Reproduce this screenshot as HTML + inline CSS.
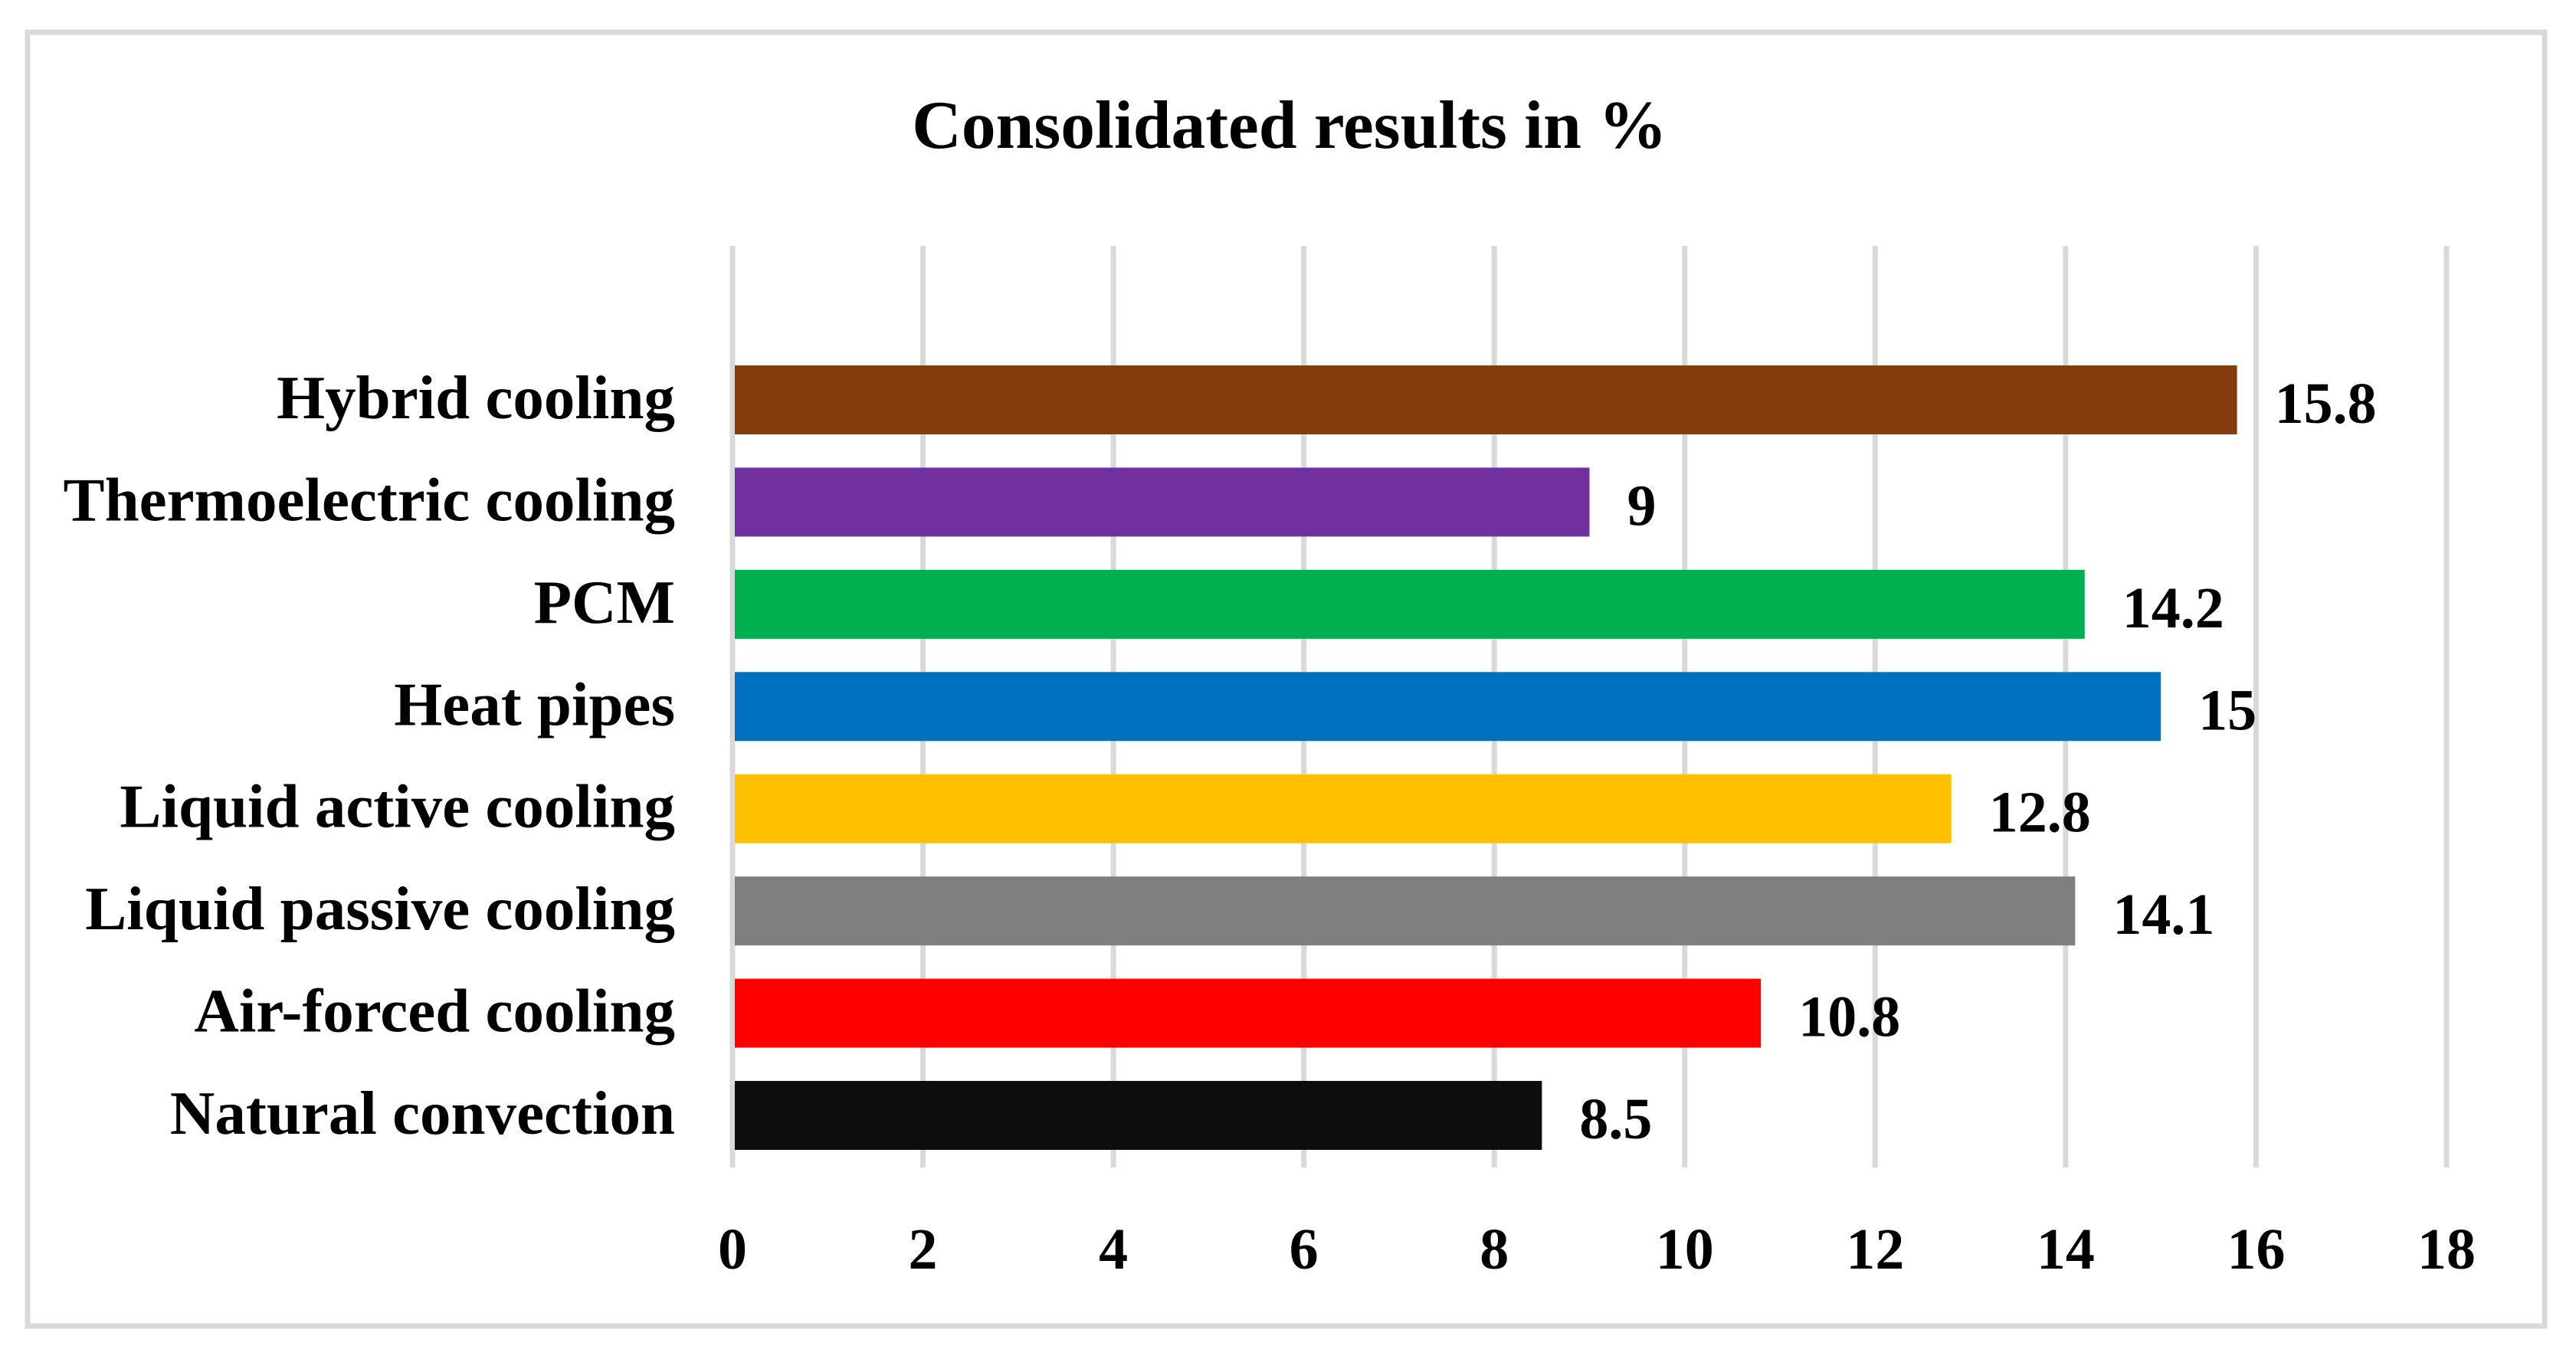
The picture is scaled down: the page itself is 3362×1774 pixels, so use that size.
<!DOCTYPE html>
<html>
<head>
<meta charset="utf-8">
<title>Consolidated results in %</title>
<style>
html,body{margin:0;padding:0;background:#fff;width:3362px;height:1774px;overflow:hidden}
svg{display:block}
text{font-family:"Liberation Serif",serif;font-weight:bold;fill:#000}
</style>
</head>
<body>
<svg id="chart" xmlns="http://www.w3.org/2000/svg" width="3362" height="1774" viewBox="0 0 3362 1774">
<rect x="0" y="0" width="3362" height="1774" fill="#fff"/>
<rect x="36" y="42" width="3285" height="1689" fill="#fff" stroke="#D9D9D9" stroke-width="7"/>
<text x="1683" y="193" font-size="89.5" text-anchor="middle">Consolidated results in %</text>
<g id="grid"></g>
<g id="bars"></g>
<g id="cats"></g>
<g id="vals"></g>
<g id="ticks"></g>
</svg>
<script>
var categories = ["Hybrid cooling","Thermoelectric cooling","PCM","Heat pipes","Liquid active cooling","Liquid passive cooling","Air-forced cooling","Natural convection"];
var values = [15.8,9,14.2,15,12.8,14.1,10.8,8.5];
var barColors = ["#843C0C","#7030A0","#00B050","#0070C0","#FFC000","#7F7F7F","#FF0000","#0D0D0D"];
var tickValues = [0,2,4,6,8,10,12,14,16,18];

var NS = "http://www.w3.org/2000/svg";
function xScale(v){ return 956 + (3193 - 956) * v / 18; }
function bandTop(i){ return 477 + 133.43 * i; }
var BAR_H = 90;

function make(tag, parent, attrs){
  var el = document.createElementNS(NS, tag);
  for (var k in attrs) el.setAttribute(k, attrs[k]);
  parent.appendChild(el);
  return el;
}

var gridG = document.getElementById("grid");
var barsG = document.getElementById("bars");
var catsG = document.getElementById("cats");
var valsG = document.getElementById("vals");
var ticksG = document.getElementById("ticks");

tickValues.forEach(function(t){
  var line = make("line", gridG, {x1:xScale(t), x2:xScale(t), y1:321, y2:1524, stroke:"#D9D9D9", "stroke-width":7});
  
  
  var label = make("text", ticksG, {x:xScale(t), y:1656, "font-size":76, "text-anchor":"middle"});
  label.textContent = String(t);
  
  
});

categories.forEach(function(c, i){
  var v = values[i];
  var top = bandTop(i);
  var bar = make("rect", barsG, {x:xScale(0)+3, y:top, width:xScale(v)-xScale(0)-3, height:BAR_H, fill:barColors[i]});
  
  
  var cat = make("text", catsG, {x:881, y:top+69, "font-size":81, "text-anchor":"end"});
  cat.textContent = c;
  
  
  var val = make("text", valsG, {x:xScale(v)+49, y:top+75, "font-size":76});
  val.textContent = String(v);
  
  
});
</script>
</body>
</html>
